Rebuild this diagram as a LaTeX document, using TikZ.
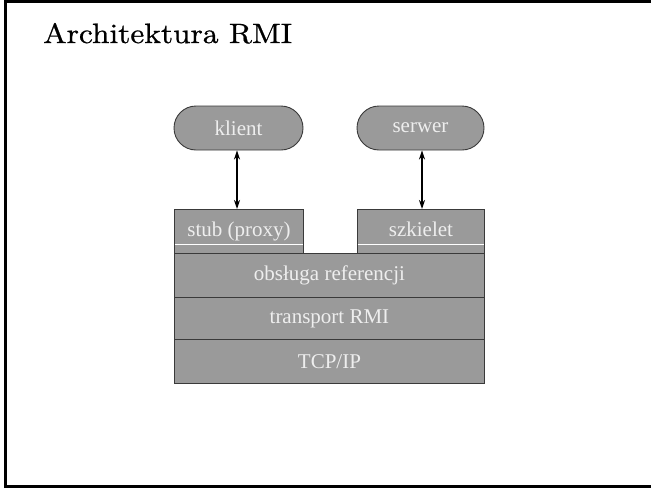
\documentclass[tikz,border=0pt]{standalone}
\usepackage{fontspec}
\newfontfamily\timesf{Liberation Serif}
\newfontfamily\titlef{lmroman10-regular.otf}[FakeBold=0.8,FakeStretch=1.12]
\usetikzlibrary{arrows.meta,calc}
\definecolor{boxgrey}{HTML}{9A9A9A}
\definecolor{boxtext}{HTML}{EEEEEE}
\definecolor{boxline}{HTML}{3A3A3A}
\begin{document}
\begin{tikzpicture}[x=1pt,y=-1pt,
  layer/.style={draw=boxline, line width=0.9pt, fill=boxgrey, text=boxtext,
    font=\timesf\fontsize{21}{24}\selectfont, inner sep=0pt, anchor=north west},
  pill/.style={layer, rounded corners=22pt, anchor=center},
  link/.style={line width=1.7pt, {Stealth[length=9pt,width=6pt]}-{Stealth[length=9pt,width=6pt]}}]
\useasboundingbox (0,0) rectangle (651,488);
\draw[line width=2.6pt] (655,1.5) -- (5.5,1.5) -- (5.5,486.7) -- (655,486.7);
\node[anchor=base west, inner sep=0pt, font=\titlef\fontsize{28}{32}\selectfont] (title) at (43,43) {Architektura RMI};
\node[pill, minimum width=129pt, minimum height=44pt] (klient) at (238.5,128) {klient};
\node[pill, minimum width=127pt, minimum height=44pt] (serwer) at (420.5,128) {serwer};
\node[layer, minimum width=129pt, minimum height=44pt] (stub) at (174,209) {\raisebox{4.5pt}{stub (proxy)}};
\node[layer, minimum width=127pt, minimum height=44pt] (szkielet) at (357,209) {\raisebox{4.5pt}{szkielet}};
\draw[white, line width=1pt] ($(stub.south west)+(0.5,-9)$) -- ($(stub.south east)+(-0.5,-9)$);
\draw[white, line width=1pt] ($(szkielet.south west)+(0.5,-9)$) -- ($(szkielet.south east)+(-0.5,-9)$);
\node[layer, minimum width=310pt, minimum height=44pt] (ref) at (174,253) {obsługa referencji};
\node[layer, minimum width=310pt, minimum height=42pt] (trans) at (174,297) {transport RMI};
\node[layer, minimum width=310pt, minimum height=44pt] (tcp) at (174,339) {TCP/IP};
\draw[link] ($(klient.south)+(-1.5,0)$) -- ($(klient.south |- stub.north)+(-1.5,0)$);
\draw[link] ($(serwer.south)+(1.5,0)$) -- ($(serwer.south |- szkielet.north)+(1.5,0)$);
\end{tikzpicture}
\end{document}
